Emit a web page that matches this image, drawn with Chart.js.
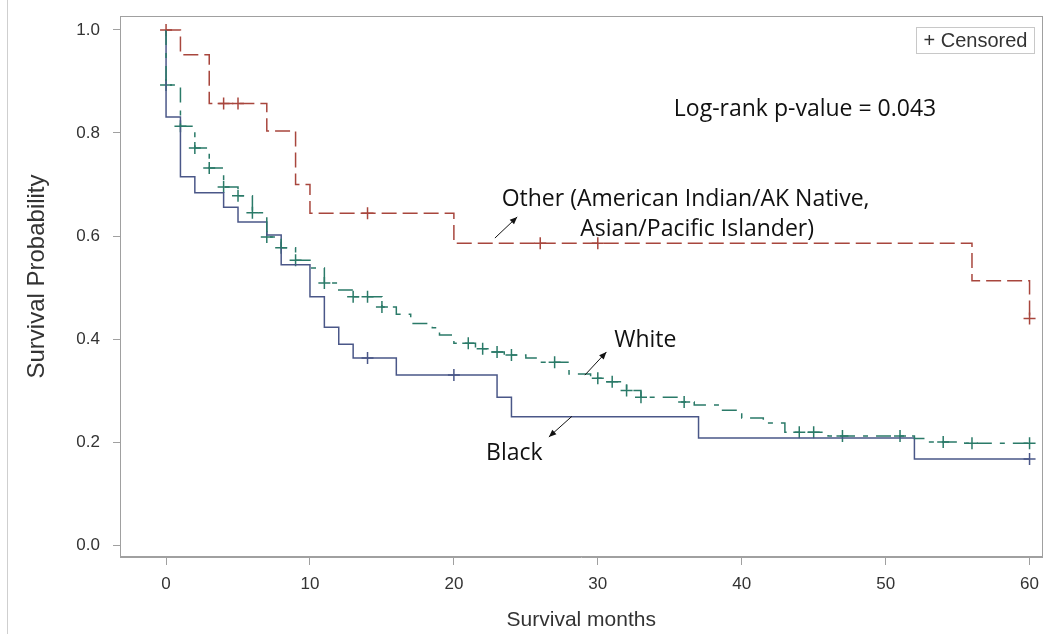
<!DOCTYPE html>
<html>
<head>
<meta charset="utf-8">
<script src="https://cdn.jsdelivr.net/npm/chart.js@4.4.0/dist/chart.umd.min.js"></script>
<style>
  html, body { margin: 0; padding: 0; background: #fff; }
  #wrap { width: 1050px; height: 634px; position: relative; }
</style>
</head>
<body>
<div id="wrap"><canvas id="km"></canvas></div>
<script>
// KM steps: time in months, survival right after the drop at that time
const otherTimes = [0, 1, 3, 7, 9, 10, 20, 56, 60];
const otherSurv = [1.0, 0.952, 0.857, 0.804, 0.70, 0.644, 0.586, 0.513, 0.44];
const otherCensored = [0, 4, 5, 14, 26, 30, 60];

const whiteTimes = [0, 0, 1, 2, 3, 4, 5, 6, 7, 8, 9, 10, 11, 12, 13, 15, 16, 17, 18.5, 19, 20, 21.5, 22.5, 23.5, 25, 26, 28, 29.5, 30.5, 32, 33, 35.5, 36.7, 38.5, 40, 41.5, 43, 46, 52, 53, 55.5, 60];
const whiteSurv = [1.0, 0.893, 0.813, 0.771, 0.732, 0.695, 0.678, 0.645, 0.598, 0.577, 0.553, 0.538, 0.509, 0.495, 0.482, 0.462, 0.448, 0.43, 0.422, 0.408, 0.392, 0.381, 0.375, 0.369, 0.363, 0.355, 0.332, 0.324, 0.317, 0.30, 0.287, 0.278, 0.272, 0.262, 0.247, 0.237, 0.219, 0.212, 0.207, 0.20, 0.198, 0.198];
const whiteCensored = [0, 1, 2, 3, 4, 5, 6, 7, 8, 9, 11, 13, 14, 15, 21, 22, 23, 24, 27, 30, 31, 32, 33, 36, 44, 45, 47, 51, 54, 56, 60];

const blackTimes = [0, 0, 1, 2, 4, 5, 7, 8, 10, 11, 12, 13, 16, 23, 24, 37, 52, 60];
const blackSurv = [1.0, 0.831, 0.715, 0.684, 0.656, 0.627, 0.602, 0.544, 0.482, 0.423, 0.39, 0.363, 0.33, 0.287, 0.249, 0.208, 0.167, 0.167];
const blackCensored = [14, 20, 60];

const xTicks = [0, 10, 20, 30, 40, 50, 60];
const yTicks = [0, 0.2, 0.4, 0.6, 0.8, 1.0];

const RED = '#a8463d';
const GREEN = '#2a7a68';
const BLUE = '#4a5788';

function steps(times, surv) {
  return times.map((t, i) => ({ x: t, y: surv[i] }));
}

function survAt(times, surv, t) {
  let v = surv[0];
  for (let i = 0; i < times.length; i++) {
    if (times[i] <= t) v = surv[i];
  }
  return v;
}

function marks(cens, times, surv) {
  return cens.map(t => ({ x: t, y: survAt(times, surv, t) }));
}

function curve(label, data, color, dash) {
  return {
    label, data,
    type: 'line',
    stepped: 'before',
    borderColor: color,
    borderWidth: 1.5,
    borderDash: dash,
    pointRadius: 0,
    fill: false
  };
}

function censor(label, data, color) {
  return {
    label, data,
    type: 'scatter',
    showLine: false,
    pointStyle: 'cross',
    pointRadius: 6,
    borderColor: color,
    borderWidth: 1.5,
    backgroundColor: color
  };
}

const arrow = (ctx, x1, y1, x2, y2) => {
  const a = Math.atan2(y2 - y1, x2 - x1);
  ctx.beginPath();
  ctx.moveTo(x1, y1);
  ctx.lineTo(x2, y2);
  ctx.stroke();
  ctx.beginPath();
  ctx.moveTo(x2, y2);
  ctx.lineTo(x2 - 8 * Math.cos(a - 0.4), y2 - 8 * Math.sin(a - 0.4));
  ctx.lineTo(x2 - 8 * Math.cos(a + 0.4), y2 - 8 * Math.sin(a + 0.4));
  ctx.closePath();
  ctx.fill();
};

// frame, y title, legend box and text annotations
const extras = {
  id: 'extras',
  afterDraw(chart) {
    const { ctx, chartArea: ca, scales: { x, y } } = chart;
    ctx.save();
    ctx.strokeStyle = '#a0a0a0';
    ctx.lineWidth = 1;
    ctx.strokeRect(Math.round(ca.left) + 0.5, Math.round(ca.top) + 0.5,
      Math.round(ca.width) - 1, Math.round(ca.height) - 1);

    ctx.strokeStyle = '#cfcfcf';
    ctx.beginPath();
    ctx.moveTo(7.5, 0);
    ctx.lineTo(7.5, 634);
    ctx.stroke();

    // y axis title, sits a bit above the middle
    ctx.save();
    ctx.translate(37, (ca.top + ca.bottom) / 2 - 10);
    ctx.rotate(-Math.PI / 2);
    ctx.fillStyle = '#333';
    ctx.font = '24px "Liberation Sans", Arial, sans-serif';
    ctx.textAlign = 'center';
    ctx.textBaseline = 'middle';
    ctx.fillText('Survival Probability', 0, 0);
    ctx.restore();

    // censored legend
    ctx.strokeStyle = '#c8c8c8';
    ctx.strokeRect(Math.round(ca.right) - 126.5, Math.round(ca.top) + 11.5, 118, 26);
    ctx.fillStyle = '#333';
    ctx.font = '20px "Liberation Sans", Arial, sans-serif';
    ctx.textBaseline = 'middle';
    ctx.textAlign = 'left';
    ctx.fillText('+ Censored', ca.right - 119, ca.top + 25);

    ctx.fillStyle = '#111';
    ctx.font = '23px "Open Sans", Lato, sans-serif';
    ctx.textAlign = 'center';
    ctx.fillText('Log-rank p-value = 0.043', x.getPixelForValue(44.4), y.getPixelForValue(0.845));
    ctx.fillText('Other (American Indian/AK Native,', x.getPixelForValue(36.1), y.getPixelForValue(0.67));
    ctx.fillText('Asian/Pacific Islander)', x.getPixelForValue(36.9), y.getPixelForValue(0.612));
    ctx.fillText('White', x.getPixelForValue(33.3), y.getPixelForValue(0.398));
    ctx.fillText('Black', x.getPixelForValue(24.2), y.getPixelForValue(0.177));

    ctx.strokeStyle = '#111';
    ctx.lineWidth = 1;
    arrow(ctx, x.getPixelForValue(22.85), y.getPixelForValue(0.596), x.getPixelForValue(24.4), y.getPixelForValue(0.637));
    arrow(ctx, x.getPixelForValue(29.1), y.getPixelForValue(0.33), x.getPixelForValue(30.6), y.getPixelForValue(0.375));
    arrow(ctx, x.getPixelForValue(28.2), y.getPixelForValue(0.25), x.getPixelForValue(26.6), y.getPixelForValue(0.21));
    ctx.restore();
  }
};

const tickFont = { family: '"Liberation Sans", Arial, sans-serif', size: 17 };

new Chart(document.getElementById('km'), {
  data: {
    datasets: [
      curve('Other', steps(otherTimes, otherSurv), RED, [15, 6]),
      curve('White', steps(whiteTimes, whiteSurv), GREEN, [15, 8, 5, 8]),
      curve('Black', steps(blackTimes, blackSurv), BLUE, []),
      censor('Other censored', marks(otherCensored, otherTimes, otherSurv), RED),
      censor('White censored', marks(whiteCensored, whiteTimes, whiteSurv), GREEN),
      censor('Black censored', marks(blackCensored, blackTimes, blackSurv), BLUE)
    ]
  },
  options: {
    responsive: true,
    maintainAspectRatio: false,
    animation: false,
    devicePixelRatio: 1,
    layout: { padding: { left: 0, top: 16, right: 7, bottom: 0 } },
    plugins: {
      legend: { display: false },
      tooltip: { enabled: false }
    },
    scales: {
      x: {
        type: 'linear',
        min: -3.2,
        max: 60.9,
        afterBuildTicks: (axis) => { axis.ticks = xTicks.map(v => ({ value: v })); },
        afterFit: (axis) => { axis.height = 77; axis.paddingLeft = 0; axis.paddingRight = 0; },
        ticks: { font: tickFont, color: '#333', padding: 9, maxRotation: 0 },
        grid: { drawOnChartArea: false, drawTicks: true, tickLength: 8, color: '#a0a0a0' },
        border: { display: true, color: '#a0a0a0' },
        title: { display: true, text: 'Survival months', font: { family: '"Liberation Sans", Arial, sans-serif', size: 21 }, color: '#333', padding: { top: 0, bottom: 1 } }
      },
      y: {
        type: 'linear',
        min: -0.023,
        max: 1.027,
        afterBuildTicks: (axis) => { axis.ticks = yTicks.map(v => ({ value: v })); },
        afterFit: (axis) => { axis.width = 120; axis.paddingTop = 0; axis.paddingBottom = 0; },
        ticks: { font: tickFont, color: '#333', padding: 13, callback: v => v.toFixed(1) },
        grid: { drawOnChartArea: false, drawTicks: true, tickLength: 7, color: '#a0a0a0' },
        border: { display: true, color: '#a0a0a0' },
        title: { display: false }
      }
    }
  },
  plugins: [extras]
});
</script>
</body>
</html>
